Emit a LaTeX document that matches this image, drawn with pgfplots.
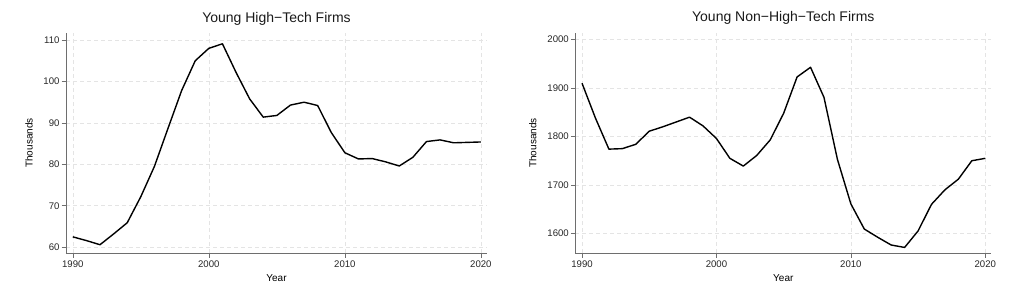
\documentclass[border=0pt]{standalone}
\usepackage{fontspec}
\setmainfont{Liberation Sans}
\usepackage{pgfplots}
\pgfplotsset{compat=1.18}
\definecolor{axgray}{RGB}{110,110,110}
\definecolor{gridgray}{RGB}{228,228,228}
\pgfplotsset{
  statastyle/.style={
    scale only axis, height=220pt,
    axis x line*=bottom, axis y line*=left,
    axis line style={draw=axgray, line width=0.7pt, -},
    tick style={draw=axgray, line width=0.6pt},
    tick align=outside, major tick length=4.5pt,
    grid=major, major grid style={dash pattern=on 4pt off 3pt, draw=gridgray, line width=0.6pt},
    xtick={1990,2000,2010,2020},
    xmin=1989.5, xmax=2020.45,
    /pgf/number format/1000 sep={},
    /pgf/number format/assume math mode=true,
    tick label style={font=\fontsize{9.6}{11}\selectfont, text=black!85},
    yticklabel style={xshift=1.5pt},
    label style={font=\fontsize{9.6}{11}\selectfont, text=black!85},
    title style={font=\fontsize{14}{16}\selectfont, text=black!90, at={(axis description cs:0.5,1)}, anchor=base, yshift=5pt},
    xlabel={Year}, ylabel={Thousands},
    every axis x label/.style={at={(axis description cs:0.5,-0.1136)}, anchor=center},
  }
}
\begin{document}
\begin{tikzpicture}
\useasboundingbox (-66pt,-45pt) rectangle (958pt,253pt);
\begin{axis}[statastyle, width=421pt, at={(0pt,0pt)}, anchor=south west,
  ymin=58.6, ymax=111.7, ytick={60,70,80,90,100,110},
  title={Young High−Tech Firms},
  every axis y label/.style={at={(axis description cs:-0.088,0.5)}, rotate=90, anchor=center}]
\addplot[black, line width=1.4pt, line join=round] coordinates {
(1990,62.5) (1991,61.6) (1992,60.6) (1993,63.2) (1994,65.9) (1995,72.2) (1996,79.5)
(1997,88.7) (1998,97.8) (1999,105.0) (2000,108.0) (2001,109.1) (2002,102.2)
(2003,95.8) (2004,91.4) (2005,91.8) (2006,94.3) (2007,95.0) (2008,94.2)
(2009,87.7) (2010,82.8) (2011,81.3) (2012,81.4) (2013,80.6) (2014,79.6)
(2015,81.7) (2016,85.5) (2017,85.9) (2018,85.2) (2019,85.3) (2020,85.4)};
\end{axis}
\begin{axis}[statastyle, width=416pt, at={(509.3pt,0pt)}, anchor=south west,
  ymin=1559.5, ymax=2013.8, ytick={1600,1700,1800,1900,2000},
  title={Young Non−High−Tech Firms},
  every axis y label/.style={at={(axis description cs:-0.1024,0.5)}, rotate=90, anchor=center}]
\addplot[black, line width=1.4pt, line join=round] coordinates {
(1990,1910) (1991,1838) (1992,1774) (1993,1775) (1994,1784) (1995,1811) (1996,1820)
(1997,1830) (1998,1840) (1999,1822) (2000,1796) (2001,1755) (2002,1739)
(2003,1761) (2004,1793) (2005,1848) (2006,1923) (2007,1943) (2008,1881)
(2009,1753) (2010,1661) (2011,1609) (2012,1592) (2013,1576) (2014,1571)
(2015,1605) (2016,1660) (2017,1690) (2018,1712) (2019,1750) (2020,1755)};
\end{axis}
\end{tikzpicture}
\end{document}
